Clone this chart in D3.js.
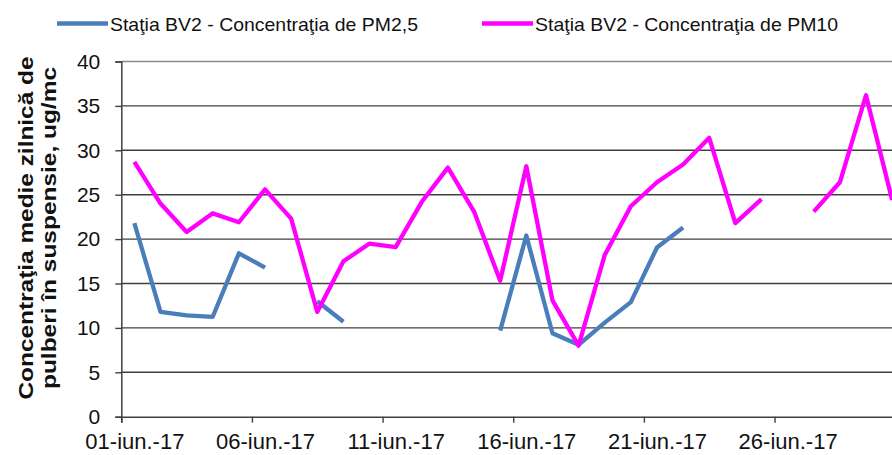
<!DOCTYPE html>
<html>
<head>
<meta charset="utf-8">
<script src="https://cdn.jsdelivr.net/npm/d3@7"></script>
<style>
  body { margin: 0; background: #fff; }
  svg { display: block; font-family: "Liberation Sans", Arial, sans-serif; }
</style>
</head>
<body>
<div id="chart"></div>
<script>
// days of June 2017 (1..30)
var days = d3.range(1, 31);
var pm25 = [21.8, 11.8, 11.4, 11.25, 18.4, 16.8, null, 13.0, 10.7, null,
            null, null, null, null, 9.7, 20.4, 9.4, 8.1, 10.6, 12.9,
            19.05, 21.3, null, null, null, null, null, null, null, null];
var pm10 = [28.7, 24.0, 20.8, 22.9, 21.9, 25.6, 22.3, 11.8, 17.5, 19.5,
            19.1, 24.2, 28.05, 23.1, 15.3, 28.2, 13.1, 8.0, 18.2, 23.7,
            26.4, 28.4, 31.4, 21.8, 24.5, null, 23.1, 26.4, 36.2, 24.4];
var yTicks = [0, 5, 10, 15, 20, 25, 30, 35, 40];
var xTickDays = [1, 6, 11, 16, 21, 26];
var seriesNames = ["Staţia BV2 - Concentraţia de PM2,5", "Staţia BV2 - Concentraţia de PM10"];
var seriesColors = ["#4A7EBB", "#FF00FF"];
var yTitle = ["Concentraţia medie zilnică de", "pulberi în suspensie, ug/mc"];

var W = 892, H = 455;
var mLeft = 121.3, mRight = 905.2, mTop = 61.5, mBottom = 416.7;

var svg = d3.select("#chart").append("svg")
    .attr("width", W).attr("height", H);

var x = d3.scaleUtc()
    .domain([Date.UTC(2017, 5, 1), Date.UTC(2017, 6, 1)])
    .range([mLeft, mRight]);
var y = d3.scaleLinear().domain([0, 40]).range([mBottom, mTop]);

var dayDate = function (d) { return new Date(Date.UTC(2017, 5, d)); };
var midDay = function (d) { return new Date(Date.UTC(2017, 5, d, 12)); };

// gridlines
svg.append("g").selectAll("line")
    .data(yTicks.filter(function (t) { return t > 0; }))
    .enter().append("line")
    .attr("x1", mLeft).attr("x2", mRight)
    .attr("y1", function (d) { return y(d); })
    .attr("y2", function (d) { return y(d); })
    .attr("stroke", function (d) { return d === 40 ? "#8a8a8a" : "#404040"; })
    .attr("stroke-width", 1.4);

// y axis
var yAxis = svg.append("g")
    .attr("transform", "translate(" + mLeft + ",0)")
    .call(d3.axisLeft(y).tickValues(yTicks).tickSize(6).tickPadding(15));
yAxis.select(".domain").attr("stroke", "#404040").attr("stroke-width", 1.5);
yAxis.selectAll(".tick line").attr("stroke", "#404040").attr("stroke-width", 1.4);
yAxis.selectAll("text").attr("font-size", 21).attr("fill", "#111");

// x axis
var xAxis = svg.append("g")
    .attr("transform", "translate(0," + mBottom + ")")
    .call(d3.axisBottom(x).tickValues(xTickDays.map(dayDate)).tickSize(6)
        .tickFormat(function (d) { return d3.utcFormat("%d")(d) + "-iun.-17"; }));
xAxis.select(".domain").attr("stroke", "#404040").attr("stroke-width", 1.5);
xAxis.selectAll(".tick line").attr("stroke", "#404040").attr("stroke-width", 1.4);
xAxis.selectAll("text")
    .attr("font-size", 22).attr("fill", "#111")
    .attr("dy", 0).attr("y", 32)
    .attr("x", x(midDay(1)) - x(dayDate(1)));

// lines
[pm25, pm10].forEach(function (vals, k) {
    var line = d3.line()
        .defined(function (d) { return d != null; })
        .x(function (d, i) { return x(midDay(days[i])); })
        .y(function (d) { return y(d); });
    svg.append("path")
        .datum(vals)
        .attr("d", line)
        .attr("fill", "none")
        .attr("stroke", seriesColors[k])
        .attr("stroke-width", 4.3)
        .attr("stroke-linejoin", "round");
});

// legend
var legendX = [57, 482];
seriesNames.forEach(function (name, k) {
    var g = svg.append("g").attr("transform", "translate(" + legendX[k] + ",23.5)");
    g.append("line").attr("x1", 0).attr("x2", 51)
        .attr("stroke", seriesColors[k]).attr("stroke-width", 4.5);
    g.append("text").attr("x", 53).attr("y", 7)
        .attr("font-size", 19).attr("fill", "#111")
        .attr("textLength", k === 0 ? 308 : 303)
        .attr("lengthAdjust", "spacingAndGlyphs")
        .text(name);
});

// y title, two rotated lines
var titleLen = [343, 322];
yTitle.forEach(function (s, i) {
    svg.append("text")
        .attr("transform", "translate(" + (33 + i * 23) + ",228) rotate(-90)")
        .attr("text-anchor", "middle")
        .attr("font-size", 21).attr("font-weight", "bold").attr("fill", "#111")
        .attr("textLength", titleLen[i])
        .attr("lengthAdjust", "spacingAndGlyphs")
        .text(s);
});
</script>
</body>
</html>
